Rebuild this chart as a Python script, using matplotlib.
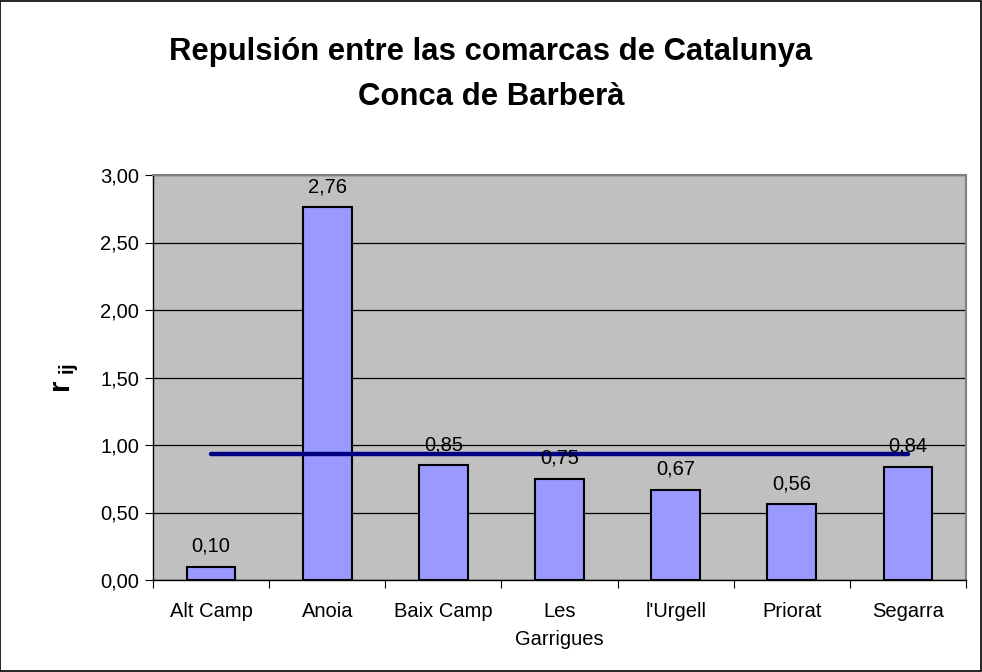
import matplotlib
matplotlib.use("Agg")
import matplotlib.pyplot as plt
import numpy as np

categories = ["Alt Camp", "Anoia", "Baix Camp", "Les\nGarrigues", "l'Urgell", "Priorat", "Segarra"]
values = [0.10, 2.76, 0.85, 0.75, 0.67, 0.56, 0.84]
labels = ["0,10", "2,76", "0,85", "0,75", "0,67", "0,56", "0,84"]
mean_value = 0.93
yticks = [0.0, 0.5, 1.0, 1.5, 2.0, 2.5, 3.0]
yticklabels = ["0,00", "0,50", "1,00", "1,50", "2,00", "2,50", "3,00"]

plt.rcParams['font.family'] = ['Liberation Sans', 'DejaVu Sans']
plt.rcParams['mathtext.fontset'] = 'custom'
plt.rcParams['mathtext.bf'] = 'Liberation Sans:bold'
plt.rcParams['mathtext.rm'] = 'Liberation Sans'

fs = 14.5

fig = plt.figure(figsize=(9.82, 6.72), dpi=100)
fig.patch.set_facecolor('white')
border = plt.Rectangle((0.0005, 0.0008), 0.998, 0.998, transform=fig.transFigure,
                       fill=False, edgecolor='black', linewidth=1.2)
fig.patches.append(border)

ax = fig.add_axes([153/982, 1 - 580/672, (966-153)/982, (580-175)/672])
ax.set_facecolor('#C0C0C0')
x = np.arange(len(categories))
ax.bar(x, values, width=0.42, color='#9999FF', edgecolor='black', linewidth=1.5, zorder=3)
for xi, v, lab in zip(x, values, labels):
    ax.text(xi, v + 0.08, lab, ha='center', va='bottom', fontsize=fs, zorder=5)

ax.plot([x[0], x[-1]], [mean_value, mean_value], color='#000080', linewidth=3.2,
        solid_capstyle='round', zorder=4)

ax.set_xlim(-0.5, len(categories) - 0.5)
ax.set_ylim(0, 3.0)
ax.set_yticks(yticks)
ax.set_yticklabels(yticklabels, fontsize=fs)
ax.yaxis.grid(True, color='black', linewidth=0.9)
ax.set_axisbelow(True)

ax.set_xticks(np.arange(-0.5, len(categories), 1.0))
ax.set_xticklabels([])
ax.set_xticks(x, minor=True)
ax.set_xticklabels(categories, minor=True, fontsize=fs, linespacing=1.6)
ax.tick_params(axis='x', which='minor', length=0, pad=16)
ax.tick_params(axis='x', which='major', length=6, direction='out', color='black')
ax.tick_params(axis='y', length=6, direction='out', pad=4)

for side in ['left', 'bottom']:
    ax.spines[side].set_color('black')
    ax.spines[side].set_linewidth(1.0)
for side in ['right', 'top']:
    ax.spines[side].set_color('#808080')
    ax.spines[side].set_linewidth(1.5)

ax.set_ylabel(r'$\mathbf{r}_{\ \mathbf{ij}}$', fontsize=21, labelpad=14)

fig.text(0.5, 1 - 52/672, "Repulsión entre las comarcas de Catalunya", ha='center', va='center',
         fontsize=22.4, fontweight='bold')
fig.text(0.5, 1 - 97/672, "Conca de Barberà", ha='center', va='center',
         fontsize=22.4, fontweight='bold')

fig.savefig("out.png", dpi=100)
